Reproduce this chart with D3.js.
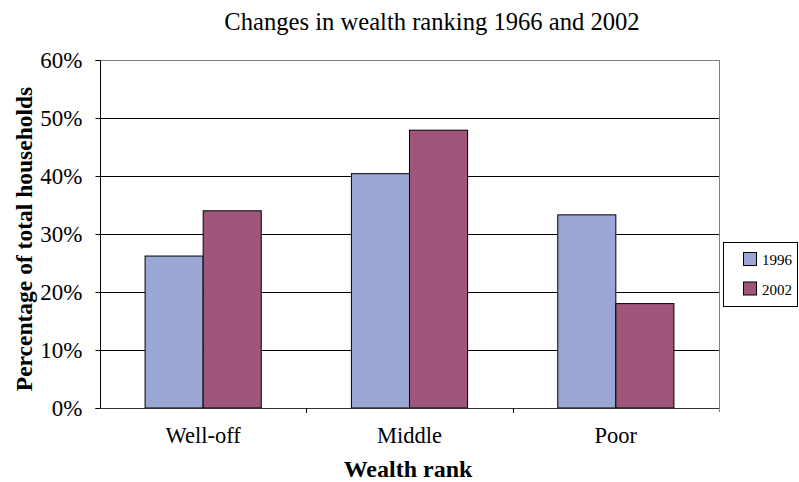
<!DOCTYPE html>
<html>
<head>
<meta charset="utf-8">
<script src="https://cdn.jsdelivr.net/npm/d3@7"></script>
<style>
  body { margin: 0; background: #fff; }
  text { font-family: "Liberation Serif", "Times New Roman", serif; fill: #000; }
</style>
</head>
<body>
<svg id="chart" width="799" height="482"></svg>
<script>
const categories = ["Well-off", "Middle", "Poor"];
const seriesNames = ["1996", "2002"];
const values1996 = [26.2, 40.4, 33.3];
const values2002 = [34.0, 47.9, 18.0];
const yTicks = [0, 10, 20, 30, 40, 50, 60];
const colors = ["#9aa6d3", "#a0567a"];

const svg = d3.select("#chart");
const m = { left: 100, right: 719, top: 60, bottom: 408 };

const x = d3.scaleBand().domain(categories).range([m.left, m.right]).paddingInner(0).paddingOuter(0);
const x1 = d3.scaleBand().domain(seriesNames).range([0, x.bandwidth()]).paddingInner(0).paddingOuter(0.776);
const y = d3.scaleLinear().domain([0, 60]).range([m.bottom, m.top]);

// gridlines
svg.append("g").selectAll("line").data(yTicks.filter(d => d > 0 && d < 60)).join("line")
  .attr("x1", m.left).attr("x2", m.right)
  .attr("y1", d => Math.round(y(d)) + 0.5).attr("y2", d => Math.round(y(d)) + 0.5)
  .attr("stroke", "#000").attr("stroke-width", 1);

// plot border top and right
svg.append("line").attr("x1", m.left).attr("x2", m.right).attr("y1", m.top + 0.5).attr("y2", m.top + 0.5)
  .attr("stroke", "#808080");
svg.append("line").attr("x1", m.right + 0.5).attr("x2", m.right + 0.5).attr("y1", m.top).attr("y2", m.bottom + 4)
  .attr("stroke", "#808080");

// bars
const data = [];
categories.forEach((c, i) => {
  data.push({ cat: c, s: "1996", v: values1996[i] });
  data.push({ cat: c, s: "2002", v: values2002[i] });
});
svg.append("g").selectAll("rect").data(data).join("rect")
  .attr("x", d => x(d.cat) + x1(d.s))
  .attr("y", d => y(d.v))
  .attr("width", x1.bandwidth())
  .attr("height", d => y(0) - y(d.v))
  .attr("fill", d => colors[seriesNames.indexOf(d.s)])
  .attr("stroke", "#000").attr("stroke-width", 1);

// y axis
const yAxis = d3.axisLeft(y).tickValues(yTicks).tickFormat(d => d + "%").tickSize(5).tickPadding(13);
const gy = svg.append("g").attr("transform", `translate(${m.left + 0.5},0)`).call(yAxis);
gy.select(".domain").attr("stroke", "#000").attr("d", `M-5,${m.top + 0.5}H0V${m.bottom + 0.5}H-5`);
gy.selectAll(".tick line").attr("stroke", "#000");
gy.selectAll(".tick text").attr("font-size", 23).attr("font-family", "Liberation Serif").attr("fill", "#000");

// x axis
const xAxis = d3.axisBottom(x).tickSize(0);
const gx = svg.append("g").attr("transform", `translate(0,${m.bottom + 0.5})`).call(xAxis);
gx.select(".domain").attr("stroke", "#333").attr("d", `M${m.left},0H${m.right}`);
gx.selectAll(".tick text").attr("font-size", 22.5).attr("font-family", "Liberation Serif").attr("fill", "#000")
  .attr("y", 34.5).attr("dy", 0);
// category separator ticks
svg.append("g").selectAll("line").data(categories.slice(1)).join("line")
  .attr("x1", d => Math.round(x(d)) + 0.5).attr("x2", d => Math.round(x(d)) + 0.5)
  .attr("y1", m.bottom).attr("y2", m.bottom + 5).attr("stroke", "#000");

// title
svg.append("text").attr("x", 432).attr("y", 30).attr("text-anchor", "middle")
  .attr("font-size", 24.6).text("Changes in wealth ranking 1966 and 2002");

// axis titles
svg.append("text").attr("x", 408).attr("y", 477).attr("text-anchor", "middle")
  .attr("font-size", 24).attr("font-weight", "bold").text("Wealth rank");
svg.append("text").attr("transform", "translate(32,239) rotate(-90)").attr("text-anchor", "middle")
  .attr("font-size", 23.5).attr("font-weight", "bold").text("Percentage of total households");

// legend
const lg = svg.append("g");
lg.append("rect").attr("x", 723.5).attr("y", 242.5).attr("width", 74).attr("height", 64)
  .attr("fill", "#fff").attr("stroke", "#000");
seriesNames.forEach((s, i) => {
  lg.append("rect").attr("x", 743.5).attr("y", 252.5 + i * 29.5).attr("width", 13).attr("height", 13)
    .attr("fill", colors[i]).attr("stroke", "#000");
  lg.append("text").attr("x", 762).attr("y", 265 + i * 29.5).attr("font-size", 15).text(s);
});
</script>
</body>
</html>
